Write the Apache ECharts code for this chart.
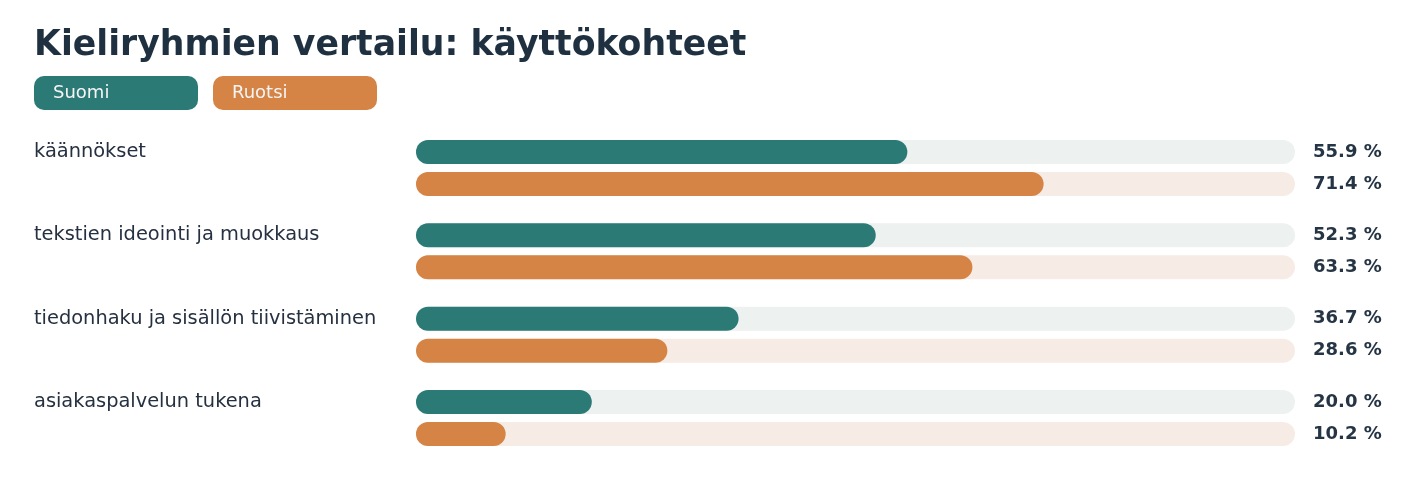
<!DOCTYPE html>
<html><head><meta charset="utf-8">
<script src="https://cdn.jsdelivr.net/npm/echarts@6/dist/echarts.min.js"></script>
<style>html,body{margin:0;padding:0;background:#fff}#c{width:1411px;height:500px}</style>
</head><body><div id="c"></div>
<script>
const categories = ['käännökset', 'tekstien ideointi ja muokkaus', 'tiedonhaku ja sisällön tiivistäminen', 'asiakaspalvelun tukena'];
const suomi = [55.9, 52.3, 36.7, 20.0];
const ruotsi = [71.4, 63.3, 28.6, 10.2];
const seriesNames = ['Suomi', 'Ruotsi'];
const colors = ['#2b7a76', '#d58445'];
const trackColors = ['#edf1f0', '#f6ece5'];
const font = 'DejaVu Sans';
const fmt = v => v.toFixed(1) + ' %';

const chart = echarts.init(document.getElementById('c'));
const valueAxisLabel = (top) => ({
  margin: 18, align: 'left', fontFamily: font, fontSize: 18, fontWeight: 'bold', color: '#253545',
  lineHeight: 32,
  formatter: v => top ? v + '\n ' : ' \n' + v
});
chart.setOption({
  animation: false,
  title: {
    text: 'Kieliryhmien vertailu: käyttökohteet', left: 34, top: 28, padding: 0,
    textStyle: { fontFamily: font, fontSize: 34.7, fontWeight: 'bold', color: '#1f3040' }
  },
  legend: {
    left: 29, top: 76, padding: 0, icon: 'none', itemWidth: 0, itemHeight: 34, itemGap: 10,
    selectedMode: false,
    data: seriesNames.map((n, i) => ({
      name: n,
      textStyle: {
        backgroundColor: colors[i], color: '#f5f5f5', borderRadius: 10,
        width: 145, padding: [8, 0, 8, 19], lineHeight: 18,
        fontFamily: font, fontSize: 18
      }
    }))
  },
  grid: { left: 416, right: 116, top: 126.3, bottom: 40.3 },
  xAxis: { type: 'value', min: 0, max: 100, show: false },
  yAxis: [
    {
      type: 'category', data: categories, inverse: true,
      axisLine: { show: false }, axisTick: { show: false },
      axisLabel: {
        margin: 382, align: 'left', fontFamily: font, fontSize: 19.4, color: '#253040',
        lineHeight: 32, formatter: v => v + '\n '
      }
    },
    {
      type: 'category', data: suomi.map(fmt), inverse: true, position: 'right',
      axisLine: { show: false }, axisTick: { show: false },
      axisLabel: valueAxisLabel(true)
    },
    {
      type: 'category', data: ruotsi.map(fmt), inverse: true, position: 'right',
      axisLine: { show: false }, axisTick: { show: false },
      axisLabel: valueAxisLabel(false)
    }
  ],
  series: [suomi, ruotsi].map((d, i) => ({
    name: seriesNames[i], type: 'bar', data: d, yAxisIndex: 0,
    barWidth: 24, barGap: '33.3%',
    itemStyle: { color: colors[i], borderRadius: 12 },
    showBackground: true,
    backgroundStyle: { color: trackColors[i], borderRadius: 12 }
  }))
});
</script></body></html>
